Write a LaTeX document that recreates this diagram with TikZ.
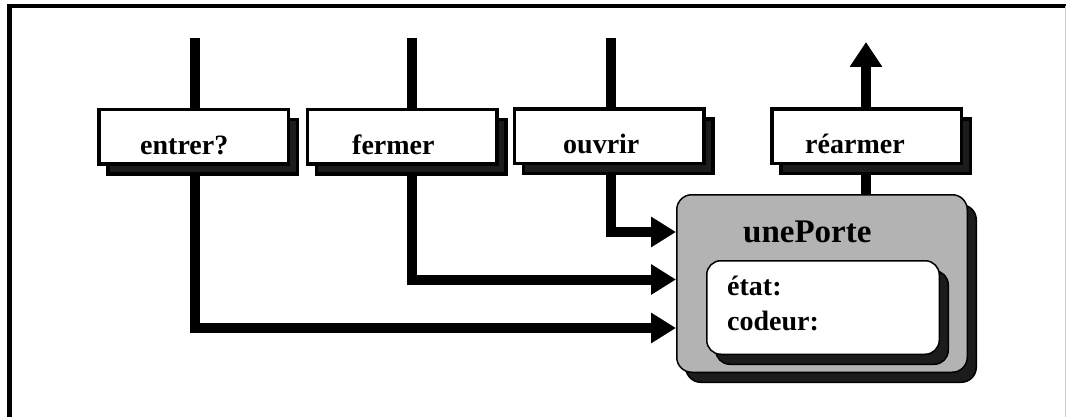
\documentclass[tikz,border=0pt]{standalone}
\usepackage{fontspec}
\setmainfont{Liberation Serif}
\usetikzlibrary{arrows.meta,shadows,backgrounds}
\definecolor{shade}{HTML}{1C1C1C}
\definecolor{objfill}{HTML}{B3B3B3}
\begin{document}
\begin{tikzpicture}[x=1pt,y=-1pt,
  msgbox/.style={draw=black, line width=3.5pt, fill=white, inner sep=0pt,
    minimum width=189.5pt, minimum height=54.5pt,
    copy shadow={shadow xshift=9pt, shadow yshift=-10pt, fill=shade, draw=black}},
  objbox/.style={draw=black, line width=1.5pt, inner sep=0pt,
    copy shadow={shadow xshift=9pt, shadow yshift=-10pt, fill=shade, draw=black}},
  lbl/.style={anchor=base west, inner sep=0pt, font=\fontsize{28}{32}\selectfont\bfseries},
  wire/.style={line width=10pt, line join=miter},
  inarrow/.style={wire, -{Triangle[length=25pt,width=29pt]}},
  outarrow/.style={wire, -{Triangle[length=25pt,width=31pt]}},
  frameline/.style={line width=4.3pt, line join=miter}
]
\useasboundingbox (0,0) rectangle (1066,417);

% outer frame
\draw[frameline] (9.5,417) -- (9.5,6.2) -- (1066,6.2);
\draw[gray!40, line width=1pt] (1065.5,6) -- (1065.5,417);

% message boxes
\node[msgbox] (entrer)  at (193.5,137) {};
\node[msgbox] (fermer)  at (402,137) {};
\node[msgbox] (ouvrir)  at (609,136.5) {};
\node[msgbox] (rearmer) at (866.5,136.5) {};

\node[lbl] (tEntrer)  at (140,155) {entrer?};
\node[lbl] (tFermer)  at (352,155) {fermer};
\node[lbl] (tOuvrir)  at (563,154) {ouvrir};
\node[lbl] (tRearmer) at (805,154) {réarmer};

% the door object and its attributes
\node[objbox, fill=objfill, rounded corners=15pt,
      minimum width=290.5pt, minimum height=177.5pt] (porte) at (822,283.5) {};
\node[anchor=base west, inner sep=0pt, font=\fontsize{33}{38}\selectfont\bfseries]
      (tPorte) at (743,242) {unePorte};
\node[objbox, fill=white, rounded corners=14pt,
      minimum width=232.5pt, minimum height=93.5pt] (attrs) at (823,307.5) {};
\node[lbl] (tEtat)   at (727,295) {état:};
\node[lbl] (tCodeur) at (727,330) {codeur:};

% incoming and outgoing messages
\coordinate (eTop) at (194.5,38);
\coordinate (fTop) at (412,38);
\coordinate (oTop) at (610.5,38);
\coordinate (rTop) at (866,42);
\begin{pgfonlayer}{background}
  \draw[inarrow] (oTop) |- ([yshift=51.5pt]porte.west);
  \draw[inarrow] (fTop) |- ([yshift=4pt]porte.west);
  \draw[inarrow] (eTop) |- ([yshift=-44.5pt]porte.west);
  \draw[outarrow] (porte.north -| rTop) -- (rTop);
\end{pgfonlayer}
\end{tikzpicture}
\end{document}
